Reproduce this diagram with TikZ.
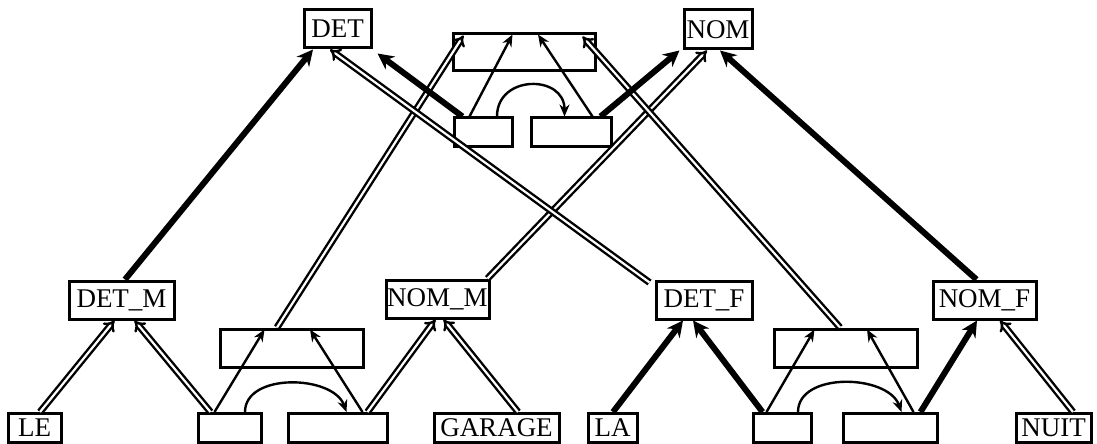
\documentclass[tikz,border=0pt]{standalone}
\usepackage{fontspec}
\setmainfont{Liberation Serif}
\usetikzlibrary{arrows.meta,calc}

\begin{document}
\begin{tikzpicture}[x=0.5pt,y=-0.5pt,
  box/.style={draw,line width=1.5pt,inner sep=0pt,font=\fontsize{13.5}{13.5}\selectfont},
  arr/.style={line width=1.2pt,-{Stealth[length=6pt,width=5pt]}},
  heavy/.style={line width=3pt,-{Stealth[length=8pt,width=8pt]}},
  dbl/.style={double,line width=1.2pt,double distance=1.1pt,-{Implies[scale=1.4]}}]
  \useasboundingbox (0,0) rectangle (1097,444);
  % Top level
  \node[box,minimum width=33.5pt,minimum height=19pt] (det) at (337.5,29) {DET};
  \node[box,minimum width=34pt,minimum height=19.5pt] (nom) at (718,29.5) {NOM};
  \node[box,minimum width=71pt,minimum height=18.5pt] (top) at (524,52.5) {};
  \node[box,minimum width=29pt,minimum height=14pt] (sl) at (483,132) {};
  \node[box,minimum width=40pt,minimum height=14pt] (sr) at (571,132) {};
  % Middle level
  \node[box,minimum width=52.5pt,minimum height=19pt] (detm) at (121.5,300) {DET\_M};
  \node[box,minimum width=51.5pt,minimum height=19pt] (nomm) at (437.5,299) {NOM\_M};
  \node[box,minimum width=48pt,minimum height=19pt] (detf) at (704,300) {DET\_F};
  \node[box,minimum width=51.5pt,minimum height=19pt] (nomf) at (984.5,300) {NOM\_F};
  \node[box,minimum width=71.5pt,minimum height=19pt] (midl) at (291.5,348) {};
  \node[box,minimum width=71.5pt,minimum height=19pt] (midr) at (845.5,348) {};
  % Words
  \node[box,minimum width=26.5pt,minimum height=14.5pt] (le) at (34.5,428) {LE};
  \node[box,minimum width=31.5pt,minimum height=14.5pt] (bl1) at (229.5,428) {};
  \node[box,minimum width=49.5pt,minimum height=14.5pt] (bl2) at (337.5,428) {};
  \node[box,minimum width=62.5pt,minimum height=14.5pt] (garage) at (496.5,428) {GARAGE};
  \node[box,minimum width=24.5pt,minimum height=14.5pt] (la) at (612.5,428) {LA};
  \node[box,minimum width=29pt,minimum height=14.5pt] (br1) at (782,428) {};
  \node[box,minimum width=47pt,minimum height=14.5pt] (br2) at (890,428) {};
  \node[box,minimum width=37.5pt,minimum height=14.5pt] (nuit) at (1053.5,428) {NUIT};
  % Lower links
  \draw[dbl] ($(le.north)+(5.5,0)$) -- ($(detm.south)+(-7,0)$);
  \draw[dbl] ($(bl1.north west)+(14,0)$) -- ($(detm.south)+(13,0)$);
  \draw[arr] ($(bl1.north west)+(18,0)$) -- ($(midl.north west)+(46,2)$);
  \draw[arr] ($(bl1.north)+(15.5,0)$) to[out=90,in=110] ($(bl2.north west)+(60,0)$);
  \draw[arr] ($(bl2.north east)+(-26,0)$) -- ($(midl.north)+(18.5,2)$);
  \draw[dbl] ($(bl2.north east)+(-21,0)$) -- ($(nomm.south)+(-2,0)$);
  \draw[dbl] ($(garage.north)+(21.5,0)$) -- ($(nomm.south)+(6,0)$);
  \draw[heavy] ($(la.north)+(0.5,0)$) -- ($(detf.south)+(-21,0)$);
  \draw[heavy] ($(br1.north west)+(11,0)$) -- ($(detf.south)+(-11,0)$);
  \draw[arr] ($(br1.north west)+(15,0)$) -- ($(midr.north west)+(42,2)$);
  \draw[arr] ($(br1.north)+(16,0)$) to[out=90,in=110] ($(br2.north west)+(60,0)$);
  \draw[arr] ($(br2.north east)+(-25,0)$) -- ($(midr.north)+(21.5,2)$);
  \draw[heavy] ($(br2.north east)+(-18,0)$) -- ($(nomf.south)+(-7.5,0)$);
  \draw[dbl] ($(nuit.north)+(19.5,0)$) -- ($(nomf.south)+(15.5,0)$);
  % Upper links
  \draw[heavy] ($(detm.north)+(3.5,0)$) -- ($(det.south)+(-24.5,0)$);
  \draw[dbl] ($(midl.north)+(-14.5,0)$) -- ($(top.north west)+(12,3)$);
  \draw[dbl] ($(nomm.north east)+(-3,0)$) -- ($(nom.south)+(-11,0)$);
  \draw[dbl] ($(detf.north west)+(-5,3)$) -- ($(det.south)+(-7.5,0)$);
  \draw[dbl] ($(midr.north)+(-5.5,0)$) -- ($(top.north east)+(-14,4)$);
  \draw[heavy] ($(nomf.north)+(-8,0)$) -- ($(nom.south)+(2,0)$);
  \draw[heavy] ($(sl.north west)+(10,0)$) -- ($(det.south east)+(5,4)$);
  \draw[arr] ($(sl.north west)+(17,0)$) -- ($(top.north west)+(61,2)$);
  \draw[arr] ($(sl.north)+(14,0)$) to[out=90,in=90,looseness=1.6] ($(sr.north west)+(35,0)$);
  \draw[arr] ($(sr.north east)+(-20,0)$) -- ($(top.north)+(14,2)$);
  \draw[heavy] ($(sr.north east)+(-12,0)$) -- ($(nom.south west)+(-3,0)$);
\end{tikzpicture}
\end{document}
